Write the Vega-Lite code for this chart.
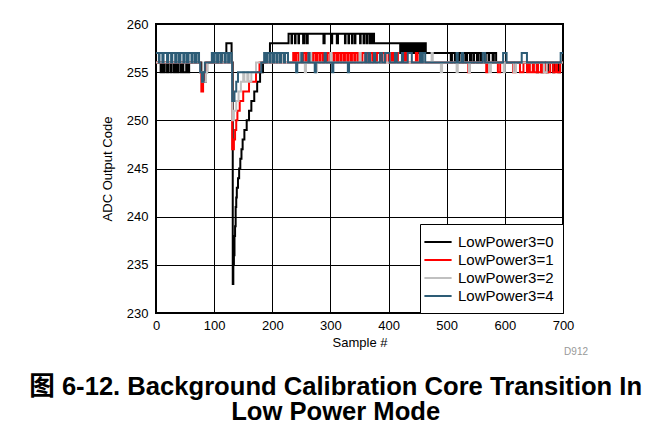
{
  "$schema": "https://vega.github.io/schema/vega-lite/v6.json",
  "width": 407,
  "height": 289,
  "autosize": {"type": "none"},
  "padding": {"left": 156, "top": 24, "right": 102, "bottom": 125},
  "background": "white",
  "title": {
    "text": ["图 6-12. Background Calibration Core Transition In", "Low Power Mode"],
    "orient": "bottom",
    "anchor": "middle",
    "frame": "bounds",
    "font": "Liberation Sans, Noto Sans CJK SC",
    "fontSize": 25.6,
    "fontWeight": "bold",
    "color": "black",
    "lineHeight": 25.6,
    "offset": 18,
    "dx": -9
  },
  "datasets": {
    "pts": [
      {"s":"LowPower3=0","x":0,"y":256},{"s":"LowPower3=0","x":8,"y":255},{"s":"LowPower3=0","x":10,"y":256},{"s":"LowPower3=0","x":13,"y":255},{"s":"LowPower3=0","x":15,"y":256},{"s":"LowPower3=0","x":19,"y":255},{"s":"LowPower3=0","x":21,"y":256},{"s":"LowPower3=0","x":25,"y":255},{"s":"LowPower3=0","x":27,"y":256},{"s":"LowPower3=0","x":31,"y":255},{"s":"LowPower3=0","x":33,"y":256},{"s":"LowPower3=0","x":36,"y":255},{"s":"LowPower3=0","x":38,"y":256},{"s":"LowPower3=0","x":42,"y":255},{"s":"LowPower3=0","x":44,"y":256},{"s":"LowPower3=0","x":47,"y":255},{"s":"LowPower3=0","x":52,"y":256},{"s":"LowPower3=0","x":54,"y":255},{"s":"LowPower3=0","x":57,"y":256},{"s":"LowPower3=0","x":78,"y":255},{"s":"LowPower3=0","x":82,"y":254},{"s":"LowPower3=0","x":86,"y":255},{"s":"LowPower3=0","x":88,"y":256},{"s":"LowPower3=0","x":113,"y":257},{"s":"LowPower3=0","x":121,"y":258},{"s":"LowPower3=0","x":130,"y":256},{"s":"LowPower3=0","x":132,"y":233},{"s":"LowPower3=0","x":133,"y":235},{"s":"LowPower3=0","x":134,"y":236},{"s":"LowPower3=0","x":135,"y":238},{"s":"LowPower3=0","x":136,"y":239},{"s":"LowPower3=0","x":137,"y":241},{"s":"LowPower3=0","x":138,"y":242},{"s":"LowPower3=0","x":139,"y":243},{"s":"LowPower3=0","x":141,"y":244},{"s":"LowPower3=0","x":143,"y":245},{"s":"LowPower3=0","x":145,"y":246},{"s":"LowPower3=0","x":147,"y":247},{"s":"LowPower3=0","x":149,"y":248},{"s":"LowPower3=0","x":152,"y":249},{"s":"LowPower3=0","x":156,"y":250},{"s":"LowPower3=0","x":160,"y":251},{"s":"LowPower3=0","x":164,"y":252},{"s":"LowPower3=0","x":169,"y":253},{"s":"LowPower3=0","x":174,"y":254},{"s":"LowPower3=0","x":179,"y":255},{"s":"LowPower3=0","x":184,"y":256},{"s":"LowPower3=0","x":188,"y":257},{"s":"LowPower3=0","x":196,"y":258},{"s":"LowPower3=0","x":228,"y":259},{"s":"LowPower3=0","x":233,"y":258},{"s":"LowPower3=0","x":234,"y":259},{"s":"LowPower3=0","x":239,"y":258},{"s":"LowPower3=0","x":240,"y":259},{"s":"LowPower3=0","x":245,"y":258},{"s":"LowPower3=0","x":246,"y":259},{"s":"LowPower3=0","x":253,"y":258},{"s":"LowPower3=0","x":255,"y":259},{"s":"LowPower3=0","x":259,"y":258},{"s":"LowPower3=0","x":261,"y":259},{"s":"LowPower3=0","x":288,"y":258},{"s":"LowPower3=0","x":290,"y":259},{"s":"LowPower3=0","x":302,"y":258},{"s":"LowPower3=0","x":303,"y":259},{"s":"LowPower3=0","x":311,"y":258},{"s":"LowPower3=0","x":313,"y":259},{"s":"LowPower3=0","x":325,"y":258},{"s":"LowPower3=0","x":326,"y":259},{"s":"LowPower3=0","x":331,"y":258},{"s":"LowPower3=0","x":332,"y":259},{"s":"LowPower3=0","x":337,"y":258},{"s":"LowPower3=0","x":338,"y":259},{"s":"LowPower3=0","x":342,"y":258},{"s":"LowPower3=0","x":343,"y":259},{"s":"LowPower3=0","x":351,"y":258},{"s":"LowPower3=0","x":352,"y":259},{"s":"LowPower3=0","x":357,"y":258},{"s":"LowPower3=0","x":358,"y":259},{"s":"LowPower3=0","x":362,"y":258},{"s":"LowPower3=0","x":363,"y":259},{"s":"LowPower3=0","x":367,"y":258},{"s":"LowPower3=0","x":368,"y":259},{"s":"LowPower3=0","x":371,"y":258},{"s":"LowPower3=0","x":373,"y":259},{"s":"LowPower3=0","x":375,"y":258},{"s":"LowPower3=0","x":420,"y":257},{"s":"LowPower3=0","x":422,"y":258},{"s":"LowPower3=0","x":425,"y":257},{"s":"LowPower3=0","x":427,"y":258},{"s":"LowPower3=0","x":429,"y":257},{"s":"LowPower3=0","x":431,"y":258},{"s":"LowPower3=0","x":433,"y":257},{"s":"LowPower3=0","x":435,"y":258},{"s":"LowPower3=0","x":437,"y":257},{"s":"LowPower3=0","x":439,"y":258},{"s":"LowPower3=0","x":441,"y":257},{"s":"LowPower3=0","x":443,"y":258},{"s":"LowPower3=0","x":446,"y":257},{"s":"LowPower3=0","x":448,"y":258},{"s":"LowPower3=0","x":450,"y":257},{"s":"LowPower3=0","x":452,"y":258},{"s":"LowPower3=0","x":455,"y":257},{"s":"LowPower3=0","x":457,"y":258},{"s":"LowPower3=0","x":460,"y":257},{"s":"LowPower3=0","x":462,"y":258},{"s":"LowPower3=0","x":464,"y":257},{"s":"LowPower3=0","x":507,"y":256},{"s":"LowPower3=0","x":509,"y":257},{"s":"LowPower3=0","x":514,"y":256},{"s":"LowPower3=0","x":516,"y":257},{"s":"LowPower3=0","x":521,"y":256},{"s":"LowPower3=0","x":522,"y":257},{"s":"LowPower3=0","x":527,"y":256},{"s":"LowPower3=0","x":529,"y":257},{"s":"LowPower3=0","x":533,"y":256},{"s":"LowPower3=0","x":535,"y":257},{"s":"LowPower3=0","x":540,"y":256},{"s":"LowPower3=0","x":542,"y":257},{"s":"LowPower3=0","x":546,"y":256},{"s":"LowPower3=0","x":547,"y":257},{"s":"LowPower3=0","x":552,"y":256},{"s":"LowPower3=0","x":554,"y":257},{"s":"LowPower3=0","x":558,"y":256},{"s":"LowPower3=0","x":560,"y":257},{"s":"LowPower3=0","x":565,"y":256},{"s":"LowPower3=0","x":567,"y":257},{"s":"LowPower3=0","x":572,"y":256},{"s":"LowPower3=0","x":573,"y":257},{"s":"LowPower3=0","x":579,"y":256},{"s":"LowPower3=0","x":581,"y":257},{"s":"LowPower3=0","x":585,"y":256},{"s":"LowPower3=0","x":655,"y":255},{"s":"LowPower3=0","x":657,"y":256},{"s":"LowPower3=0","x":663,"y":255},{"s":"LowPower3=0","x":665,"y":256},{"s":"LowPower3=0","x":672,"y":255},{"s":"LowPower3=0","x":674,"y":256},{"s":"LowPower3=0","x":683,"y":255},{"s":"LowPower3=0","x":685,"y":256},{"s":"LowPower3=0","x":692,"y":255},{"s":"LowPower3=0","x":695,"y":256},{"s":"LowPower3=0","x":700,"y":256},

      {"s":"LowPower3=1","x":0,"y":256},{"s":"LowPower3=1","x":76,"y":255},{"s":"LowPower3=1","x":78,"y":253},{"s":"LowPower3=1","x":81,"y":254},{"s":"LowPower3=1","x":83,"y":255},{"s":"LowPower3=1","x":86,"y":256},{"s":"LowPower3=1","x":131,"y":247},{"s":"LowPower3=1","x":134,"y":248},{"s":"LowPower3=1","x":136,"y":249},{"s":"LowPower3=1","x":138,"y":250},{"s":"LowPower3=1","x":140,"y":251},{"s":"LowPower3=1","x":144,"y":252},{"s":"LowPower3=1","x":150,"y":253},{"s":"LowPower3=1","x":160,"y":254},{"s":"LowPower3=1","x":172,"y":255},{"s":"LowPower3=1","x":178,"y":256},{"s":"LowPower3=1","x":236,"y":257},{"s":"LowPower3=1","x":239,"y":256},{"s":"LowPower3=1","x":241,"y":257},{"s":"LowPower3=1","x":245,"y":256},{"s":"LowPower3=1","x":247,"y":257},{"s":"LowPower3=1","x":251,"y":256},{"s":"LowPower3=1","x":253,"y":257},{"s":"LowPower3=1","x":257,"y":256},{"s":"LowPower3=1","x":259,"y":257},{"s":"LowPower3=1","x":263,"y":256},{"s":"LowPower3=1","x":265,"y":257},{"s":"LowPower3=1","x":269,"y":256},{"s":"LowPower3=1","x":271,"y":257},{"s":"LowPower3=1","x":275,"y":256},{"s":"LowPower3=1","x":277,"y":257},{"s":"LowPower3=1","x":281,"y":256},{"s":"LowPower3=1","x":283,"y":257},{"s":"LowPower3=1","x":287,"y":256},{"s":"LowPower3=1","x":289,"y":257},{"s":"LowPower3=1","x":293,"y":256},{"s":"LowPower3=1","x":295,"y":257},{"s":"LowPower3=1","x":299,"y":256},{"s":"LowPower3=1","x":301,"y":257},{"s":"LowPower3=1","x":305,"y":256},{"s":"LowPower3=1","x":307,"y":257},{"s":"LowPower3=1","x":311,"y":256},{"s":"LowPower3=1","x":313,"y":257},{"s":"LowPower3=1","x":317,"y":256},{"s":"LowPower3=1","x":319,"y":257},{"s":"LowPower3=1","x":323,"y":256},{"s":"LowPower3=1","x":325,"y":257},{"s":"LowPower3=1","x":329,"y":256},{"s":"LowPower3=1","x":331,"y":257},{"s":"LowPower3=1","x":335,"y":256},{"s":"LowPower3=1","x":337,"y":257},{"s":"LowPower3=1","x":341,"y":256},{"s":"LowPower3=1","x":343,"y":257},{"s":"LowPower3=1","x":347,"y":256},{"s":"LowPower3=1","x":349,"y":257},{"s":"LowPower3=1","x":353,"y":256},{"s":"LowPower3=1","x":355,"y":257},{"s":"LowPower3=1","x":360,"y":256},{"s":"LowPower3=1","x":362,"y":257},{"s":"LowPower3=1","x":366,"y":256},{"s":"LowPower3=1","x":368,"y":257},{"s":"LowPower3=1","x":372,"y":256},{"s":"LowPower3=1","x":374,"y":257},{"s":"LowPower3=1","x":378,"y":256},{"s":"LowPower3=1","x":380,"y":257},{"s":"LowPower3=1","x":386,"y":256},{"s":"LowPower3=1","x":388,"y":257},{"s":"LowPower3=1","x":393,"y":256},{"s":"LowPower3=1","x":395,"y":257},{"s":"LowPower3=1","x":400,"y":256},{"s":"LowPower3=1","x":405,"y":257},{"s":"LowPower3=1","x":408,"y":256},{"s":"LowPower3=1","x":412,"y":257},{"s":"LowPower3=1","x":416,"y":256},{"s":"LowPower3=1","x":427,"y":257},{"s":"LowPower3=1","x":430,"y":256},{"s":"LowPower3=1","x":447,"y":257},{"s":"LowPower3=1","x":450,"y":256},{"s":"LowPower3=1","x":537,"y":255},{"s":"LowPower3=1","x":540,"y":256},{"s":"LowPower3=1","x":568,"y":255},{"s":"LowPower3=1","x":570,"y":256},{"s":"LowPower3=1","x":588,"y":255},{"s":"LowPower3=1","x":592,"y":256},{"s":"LowPower3=1","x":614,"y":255},{"s":"LowPower3=1","x":618,"y":256},{"s":"LowPower3=1","x":626,"y":255},{"s":"LowPower3=1","x":632,"y":256},{"s":"LowPower3=1","x":638,"y":255},{"s":"LowPower3=1","x":641,"y":256},{"s":"LowPower3=1","x":643,"y":255},{"s":"LowPower3=1","x":648,"y":256},{"s":"LowPower3=1","x":650,"y":255},{"s":"LowPower3=1","x":655,"y":256},{"s":"LowPower3=1","x":657,"y":255},{"s":"LowPower3=1","x":662,"y":256},{"s":"LowPower3=1","x":664,"y":255},{"s":"LowPower3=1","x":670,"y":256},{"s":"LowPower3=1","x":672,"y":255},{"s":"LowPower3=1","x":678,"y":256},{"s":"LowPower3=1","x":683,"y":255},{"s":"LowPower3=1","x":687,"y":256},{"s":"LowPower3=1","x":690,"y":255},{"s":"LowPower3=1","x":695,"y":256},{"s":"LowPower3=1","x":700,"y":256},

      {"s":"LowPower3=2","x":0,"y":256},{"s":"LowPower3=2","x":76,"y":255},{"s":"LowPower3=2","x":80,"y":254},{"s":"LowPower3=2","x":86,"y":255},{"s":"LowPower3=2","x":88,"y":256},{"s":"LowPower3=2","x":131,"y":250},{"s":"LowPower3=2","x":134,"y":251},{"s":"LowPower3=2","x":138,"y":252},{"s":"LowPower3=2","x":142,"y":253},{"s":"LowPower3=2","x":146,"y":254},{"s":"LowPower3=2","x":150,"y":255},{"s":"LowPower3=2","x":152,"y":254},{"s":"LowPower3=2","x":157,"y":255},{"s":"LowPower3=2","x":159,"y":254},{"s":"LowPower3=2","x":164,"y":255},{"s":"LowPower3=2","x":172,"y":256},{"s":"LowPower3=2","x":200,"y":257},{"s":"LowPower3=2","x":203,"y":256},{"s":"LowPower3=2","x":215,"y":257},{"s":"LowPower3=2","x":217,"y":256},{"s":"LowPower3=2","x":248,"y":257},{"s":"LowPower3=2","x":250,"y":256},{"s":"LowPower3=2","x":256,"y":255},{"s":"LowPower3=2","x":258,"y":256},{"s":"LowPower3=2","x":265,"y":257},{"s":"LowPower3=2","x":267,"y":256},{"s":"LowPower3=2","x":275,"y":255},{"s":"LowPower3=2","x":277,"y":256},{"s":"LowPower3=2","x":300,"y":257},{"s":"LowPower3=2","x":302,"y":256},{"s":"LowPower3=2","x":350,"y":257},{"s":"LowPower3=2","x":352,"y":256},{"s":"LowPower3=2","x":474,"y":257},{"s":"LowPower3=2","x":476,"y":256},{"s":"LowPower3=2","x":490,"y":255},{"s":"LowPower3=2","x":492,"y":256},{"s":"LowPower3=2","x":517,"y":255},{"s":"LowPower3=2","x":519,"y":256},{"s":"LowPower3=2","x":538,"y":255},{"s":"LowPower3=2","x":540,"y":256},{"s":"LowPower3=2","x":573,"y":255},{"s":"LowPower3=2","x":576,"y":256},{"s":"LowPower3=2","x":598,"y":255},{"s":"LowPower3=2","x":600,"y":256},{"s":"LowPower3=2","x":615,"y":255},{"s":"LowPower3=2","x":619,"y":256},{"s":"LowPower3=2","x":667,"y":255},{"s":"LowPower3=2","x":672,"y":256},{"s":"LowPower3=2","x":700,"y":256},

      {"s":"LowPower3=4","x":0,"y":257},{"s":"LowPower3=4","x":5,"y":256},{"s":"LowPower3=4","x":6,"y":257},{"s":"LowPower3=4","x":11,"y":256},{"s":"LowPower3=4","x":13,"y":257},{"s":"LowPower3=4","x":19,"y":256},{"s":"LowPower3=4","x":21,"y":257},{"s":"LowPower3=4","x":26,"y":256},{"s":"LowPower3=4","x":28,"y":257},{"s":"LowPower3=4","x":33,"y":256},{"s":"LowPower3=4","x":35,"y":257},{"s":"LowPower3=4","x":39,"y":256},{"s":"LowPower3=4","x":42,"y":257},{"s":"LowPower3=4","x":47,"y":256},{"s":"LowPower3=4","x":49,"y":257},{"s":"LowPower3=4","x":53,"y":256},{"s":"LowPower3=4","x":56,"y":257},{"s":"LowPower3=4","x":61,"y":256},{"s":"LowPower3=4","x":63,"y":257},{"s":"LowPower3=4","x":67,"y":256},{"s":"LowPower3=4","x":70,"y":257},{"s":"LowPower3=4","x":74,"y":256},{"s":"LowPower3=4","x":76,"y":255},{"s":"LowPower3=4","x":79,"y":254},{"s":"LowPower3=4","x":82,"y":255},{"s":"LowPower3=4","x":84,"y":256},{"s":"LowPower3=4","x":96,"y":257},{"s":"LowPower3=4","x":99,"y":256},{"s":"LowPower3=4","x":101,"y":257},{"s":"LowPower3=4","x":105,"y":256},{"s":"LowPower3=4","x":107,"y":257},{"s":"LowPower3=4","x":111,"y":256},{"s":"LowPower3=4","x":113,"y":257},{"s":"LowPower3=4","x":118,"y":256},{"s":"LowPower3=4","x":120,"y":257},{"s":"LowPower3=4","x":124,"y":256},{"s":"LowPower3=4","x":126,"y":257},{"s":"LowPower3=4","x":130,"y":256},{"s":"LowPower3=4","x":131,"y":252},{"s":"LowPower3=4","x":135,"y":253},{"s":"LowPower3=4","x":138,"y":254},{"s":"LowPower3=4","x":141,"y":255},{"s":"LowPower3=4","x":181,"y":256},{"s":"LowPower3=4","x":186,"y":257},{"s":"LowPower3=4","x":189,"y":256},{"s":"LowPower3=4","x":191,"y":257},{"s":"LowPower3=4","x":195,"y":256},{"s":"LowPower3=4","x":197,"y":257},{"s":"LowPower3=4","x":201,"y":256},{"s":"LowPower3=4","x":203,"y":257},{"s":"LowPower3=4","x":207,"y":256},{"s":"LowPower3=4","x":209,"y":257},{"s":"LowPower3=4","x":213,"y":256},{"s":"LowPower3=4","x":215,"y":257},{"s":"LowPower3=4","x":220,"y":256},{"s":"LowPower3=4","x":222,"y":257},{"s":"LowPower3=4","x":227,"y":256},{"s":"LowPower3=4","x":241,"y":255},{"s":"LowPower3=4","x":243,"y":256},{"s":"LowPower3=4","x":250,"y":257},{"s":"LowPower3=4","x":252,"y":256},{"s":"LowPower3=4","x":262,"y":257},{"s":"LowPower3=4","x":264,"y":256},{"s":"LowPower3=4","x":273,"y":255},{"s":"LowPower3=4","x":275,"y":256},{"s":"LowPower3=4","x":290,"y":257},{"s":"LowPower3=4","x":292,"y":256},{"s":"LowPower3=4","x":303,"y":255},{"s":"LowPower3=4","x":305,"y":256},{"s":"LowPower3=4","x":330,"y":255},{"s":"LowPower3=4","x":332,"y":256},{"s":"LowPower3=4","x":360,"y":257},{"s":"LowPower3=4","x":362,"y":256},{"s":"LowPower3=4","x":366,"y":257},{"s":"LowPower3=4","x":368,"y":256},{"s":"LowPower3=4","x":375,"y":257},{"s":"LowPower3=4","x":377,"y":256},{"s":"LowPower3=4","x":385,"y":257},{"s":"LowPower3=4","x":389,"y":256},{"s":"LowPower3=4","x":394,"y":257},{"s":"LowPower3=4","x":402,"y":256},{"s":"LowPower3=4","x":411,"y":257},{"s":"LowPower3=4","x":414,"y":256},{"s":"LowPower3=4","x":423,"y":257},{"s":"LowPower3=4","x":425,"y":256},{"s":"LowPower3=4","x":433,"y":257},{"s":"LowPower3=4","x":440,"y":256},{"s":"LowPower3=4","x":454,"y":257},{"s":"LowPower3=4","x":456,"y":256},{"s":"LowPower3=4","x":459,"y":257},{"s":"LowPower3=4","x":463,"y":256},{"s":"LowPower3=4","x":517,"y":257},{"s":"LowPower3=4","x":519,"y":256},{"s":"LowPower3=4","x":526,"y":257},{"s":"LowPower3=4","x":528,"y":256},{"s":"LowPower3=4","x":562,"y":257},{"s":"LowPower3=4","x":566,"y":256},{"s":"LowPower3=4","x":597,"y":257},{"s":"LowPower3=4","x":603,"y":256},{"s":"LowPower3=4","x":629,"y":257},{"s":"LowPower3=4","x":638,"y":256},{"s":"LowPower3=4","x":696,"y":257},{"s":"LowPower3=4","x":700,"y":257}
    ]
  },
  "layer": [
    {
      "data": {"name": "pts"},
      "mark": {"type": "line", "interpolate": "step-after", "strokeWidth": 2, "clip": true},
      "encoding": {
        "x": {
          "field": "x", "type": "quantitative",
          "scale": {"domain": [0, 700], "nice": false, "zero": false},
          "axis": {
            "title": "Sample #",
            "values": [0, 50, 100, 150, 200, 250, 300, 350, 400, 450, 500, 550, 600, 650, 700],
            "labelExpr": "datum.value % 100 === 0 ? datum.label : ''",
            "labelFlush": false,
            "ticks": false, "labelPadding": 6, "titlePadding": 4
          }
        },
        "y": {
          "field": "y", "type": "quantitative",
          "scale": {"domain": [230, 260], "nice": false, "zero": false},
          "axis": {
            "title": "ADC Output Code",
            "values": [230, 235, 240, 245, 250, 255, 260],
            "labelFlush": false,
            "ticks": false, "labelPadding": 8, "titlePadding": 12
          }
        },
        "color": {
          "field": "s", "type": "nominal",
          "scale": {
            "domain": ["LowPower3=0", "LowPower3=1", "LowPower3=2", "LowPower3=4"],
            "range": ["#000000", "#ff0000", "#c0c0c0", "#2d5c76"]
          },
          "legend": {
            "title": null,
            "orient": "bottom-right",
            "offset": 0,
            "padding": 9,
            "fillColor": "white",
            "strokeColor": "black",
            "symbolType": "M-1.7,0H1.7",
            "symbolSize": 256,
            "symbolStrokeWidth": 2,
            "labelFontSize": 15,
            "labelFont": "Liberation Sans",
            "labelColor": "black",
            "rowPadding": 1,
            "labelOffset": 11
          }
        }
      }
    },
    {
      "data": {"values": [{}]},
      "mark": {"type": "text", "text": "D912", "align": "right", "baseline": "middle", "fontSize": 10, "color": "#999999", "dx": 25, "clip": false},
      "encoding": {
        "x": {"datum": 700},
        "y": {"datum": 226}
      }
    }
  ],
  "config": {
    "font": "Liberation Sans",
    "view": {"stroke": "black", "strokeWidth": 2},
    "axis": {
      "grid": true,
      "gridColor": "#000000",
      "gridWidth": 1,
      "gridOpacity": 1,
      "domain": false,
      "labelFont": "Liberation Sans",
      "labelFontSize": 13,
      "labelColor": "black",
      "titleFont": "Liberation Sans",
      "titleFontSize": 13,
      "titleFontWeight": "normal",
      "titleColor": "black"
    }
  }
}
